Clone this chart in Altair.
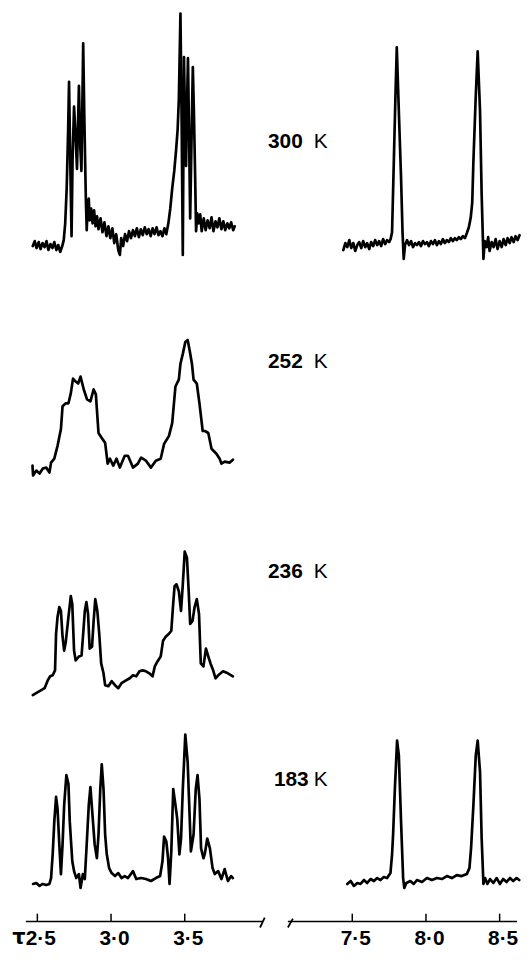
import altair as alt
import pandas as pd

# ---------------- data ----------------
TEMPS = ["300", "252", "236", "183"]
# vertical stacking offset of each trace (baseline level, plot units)
OFFSET = {"300": 684, "252": 454, "236": 233, "183": 38}
# level of the temperature label beside each trace
LABEL_LEVEL = {"300": 788, "252": 566, "236": 353, "183": 143}

TAU_300_L = [2.469, 2.482, 2.495, 2.509, 2.522, 2.535, 2.549, 2.562, 2.575, 2.589,
             2.602, 2.615, 2.629, 2.642, 2.655, 2.669, 2.679, 2.689, 2.699, 2.709,
             2.715, 2.722, 2.732, 2.739, 2.749, 2.759, 2.769, 2.782, 2.792, 2.799,
             2.805, 2.811, 2.819, 2.829, 2.835, 2.842, 2.849, 2.855, 2.865, 2.875,
             2.885, 2.895, 2.905, 2.915, 2.929, 2.942, 2.955, 2.969, 2.982, 2.995,
             3.009, 3.022, 3.035, 3.049, 3.060, 3.069, 3.082, 3.095, 3.109, 3.122,
             3.135, 3.149, 3.162, 3.175, 3.189, 3.202, 3.215, 3.229, 3.242, 3.255,
             3.269, 3.282, 3.295, 3.309, 3.322, 3.335, 3.349, 3.362, 3.375, 3.389,
             3.402, 3.415, 3.429, 3.442, 3.452, 3.460, 3.471, 3.479, 3.487, 3.495,
             3.502, 3.509, 3.515, 3.522, 3.529, 3.537, 3.545, 3.555, 3.562, 3.571,
             3.577, 3.585, 3.595, 3.605, 3.615, 3.629, 3.642, 3.655, 3.669, 3.682,
             3.695, 3.709, 3.722, 3.735, 3.749, 3.762, 3.775, 3.789, 3.802, 3.815,
             3.829, 3.839]
INT_300_L = [-1, 4, -3, 3, -4, 2, -2, 4, -5, 1,
             -3, 3, -5, 0, -7, -1, 5, 22, 57, 117,
             165, 97, 9, 87, 140, 112, 77, 161, 97, 75,
             137, 204, 127, 47, 15, 42, 47, 25, 37, 22,
             35, 19, 29, 16, 27, 13, 23, 9, 19, 7,
             17, 2, 11, -5, -10, 7, -1, 11, 4, 14,
             7, 15, 9, 17, 8, 16, 10, 18, 11, 16,
             9, 17, 11, 18, 10, 14, 9, 17, 11, 22,
             37, 57, 75, 97, 117, 147, 234, 127, -10, 190,
             127, 80, 137, 189, 117, 27, 97, 180, 137, 67,
             14, 32, 22, 31, 14, 27, 15, 25, 17, 28,
             14, 24, 18, 27, 16, 24, 15, 22, 17, 23,
             15, 19]

TAU_300_R = [7.439, 7.453, 7.466, 7.480, 7.493, 7.507, 7.520, 7.534, 7.547, 7.561,
             7.574, 7.588, 7.601, 7.615, 7.628, 7.642, 7.655, 7.669, 7.682, 7.696,
             7.709, 7.723, 7.736, 7.750, 7.760, 7.770, 7.782, 7.793, 7.802, 7.816,
             7.831, 7.841, 7.849, 7.858, 7.872, 7.885, 7.899, 7.912, 7.926, 7.939,
             7.953, 7.966, 7.980, 7.993, 8.007, 8.020, 8.034, 8.047, 8.061, 8.074,
             8.088, 8.101, 8.115, 8.128, 8.142, 8.155, 8.169, 8.182, 8.196, 8.209,
             8.223, 8.236, 8.250, 8.264, 8.277, 8.291, 8.304, 8.314, 8.322, 8.338,
             8.351, 8.367, 8.378, 8.390, 8.399, 8.412, 8.422, 8.432, 8.446, 8.459,
             8.473, 8.486, 8.500, 8.514, 8.527, 8.541, 8.554, 8.568, 8.581, 8.595,
             8.608, 8.622, 8.635]
INT_300_R = [-5, 2, -2, 5, -3, 2, -6, 0, 3, -3,
             4, -2, 2, -4, 3, -1, 5, 0, 4, -1,
             6, 1, 5, 3, 6, 13, 85, 151, 200, 135,
             68, 13, -14, 0, 5, 0, 4, -2, 2, 0,
             3, -1, 4, 1, 3, -1, 4, 1, 5, 0,
             4, 1, 6, 2, 5, 3, 7, 4, 7, 5,
             8, 6, 9, 7, 12, 18, 28, 43, 85, 151,
             196, 135, 51, -14, 4, -2, 8, -6, 3, -2,
             6, -4, 4, -2, 6, 0, 7, 2, 8, 3,
             9, 5, 10]

TAU_252_L = [2.467, 2.471, 2.493, 2.515, 2.537, 2.560, 2.582, 2.593, 2.615, 2.637,
             2.660, 2.671, 2.693, 2.711, 2.727, 2.742, 2.760, 2.777, 2.793, 2.815,
             2.837, 2.860, 2.882, 2.897, 2.915, 2.937, 2.960, 2.977, 2.993, 3.015,
             3.037, 3.060, 3.093, 3.115, 3.149, 3.182, 3.204, 3.237, 3.271, 3.304,
             3.337, 3.360, 3.393, 3.415, 3.437, 3.460, 3.471, 3.487, 3.504, 3.520,
             3.533, 3.549, 3.560, 3.582, 3.600, 3.622, 3.637, 3.660, 3.682, 3.715,
             3.737, 3.749, 3.771, 3.804, 3.827]
INT_252_L = [7, -3, 2, -1, 4, 5, 0, 10, 14, 27,
             44, 67, 70, 70, 80, 95, 92, 90, 97, 84,
             74, 72, 84, 79, 40, 35, 30, 9, 14, 7,
             14, 5, 17, 17, 5, 9, 15, 12, 5, 12,
             14, 29, 37, 50, 87, 94, 110, 120, 132, 134,
             124, 110, 94, 90, 70, 42, 42, 40, 24, 19,
             14, 9, 11, 10, 13]

TAU_236_L = [2.469, 2.515, 2.549, 2.571, 2.587, 2.604, 2.620, 2.627, 2.637, 2.649,
             2.660, 2.671, 2.682, 2.693, 2.711, 2.727, 2.737, 2.749, 2.760, 2.782,
             2.800, 2.811, 2.822, 2.833, 2.844, 2.855, 2.871, 2.882, 2.893, 2.907,
             2.920, 2.933, 2.949, 2.960, 2.982, 3.004, 3.027, 3.049, 3.071, 3.093,
             3.127, 3.149, 3.171, 3.193, 3.215, 3.237, 3.260, 3.282, 3.297, 3.315,
             3.337, 3.353, 3.371, 3.393, 3.409, 3.420, 3.431, 3.444, 3.460, 3.475,
             3.487, 3.500, 3.515, 3.527, 3.537, 3.553, 3.567, 3.582, 3.597, 3.609,
             3.627, 3.644, 3.660, 3.675, 3.693, 3.709, 3.727, 3.760, 3.793, 3.827]
INT_236_L = [-4, 0, 3, 11, 15, 16, 21, 58, 75, 85,
             81, 55, 41, 50, 75, 96, 88, 41, 31, 35,
             36, 58, 81, 90, 78, 43, 45, 71, 93, 81,
             58, 28, 18, 6, 5, 10, 6, 3, 8, 10,
             13, 16, 15, 20, 21, 20, 18, 15, 25, 30,
             35, 51, 55, 58, 61, 85, 106, 108, 101, 81,
             108, 141, 135, 101, 68, 71, 85, 93, 78, 28,
             25, 43, 35, 28, 21, 13, 16, 20, 18, 15]

TAU_183_L = [2.471, 2.493, 2.515, 2.537, 2.560, 2.582, 2.593, 2.604, 2.615, 2.627,
             2.637, 2.649, 2.660, 2.671, 2.682, 2.697, 2.711, 2.720, 2.737, 2.749,
             2.764, 2.782, 2.793, 2.809, 2.822, 2.837, 2.849, 2.860, 2.871, 2.889,
             2.904, 2.915, 2.927, 2.937, 2.949, 2.960, 2.971, 2.987, 3.004, 3.027,
             3.049, 3.071, 3.093, 3.115, 3.149, 3.171, 3.204, 3.237, 3.271, 3.304,
             3.333, 3.349, 3.360, 3.375, 3.387, 3.397, 3.409, 3.422, 3.437, 3.449,
             3.464, 3.475, 3.487, 3.504, 3.520, 3.533, 3.542, 3.560, 3.575, 3.587,
             3.600, 3.611, 3.627, 3.637, 3.653, 3.671, 3.689, 3.704, 3.727, 3.749,
             3.771, 3.793, 3.815, 3.827]
INT_183_L = [0, 1, -2, 0, -1, 0, 6, 30, 63, 88,
             76, 40, 10, 40, 80, 110, 101, 63, 23, 13,
             6, 10, -4, 10, 5, 46, 80, 98, 76, 40,
             26, 50, 96, 121, 96, 50, 30, 16, 11, 8,
             11, 6, 8, 6, 13, 5, 6, 5, 3, 6,
             8, 23, 48, 43, 26, 0, 33, 96, 80, 66,
             30, 46, 96, 151, 123, 70, 33, 50, 96, 110,
             86, 36, 26, 31, 46, 36, 16, 10, 13, 5,
             15, 3, 8, 6]

TAU_183_R = [7.466, 7.489, 7.511, 7.534, 7.556, 7.579, 7.601, 7.624, 7.647, 7.669,
             7.691, 7.714, 7.736, 7.759, 7.770, 7.777, 7.789, 7.804, 7.816, 7.831,
             7.845, 7.853, 7.867, 7.894, 7.917, 7.939, 7.973, 8.007, 8.041, 8.074,
             8.108, 8.142, 8.176, 8.209, 8.243, 8.277, 8.295, 8.306, 8.322, 8.338,
             8.351, 8.367, 8.378, 8.390, 8.401, 8.417, 8.435, 8.457, 8.480, 8.502,
             8.524, 8.547, 8.570, 8.592, 8.615, 8.633]
INT_183_R = [0, 3, -2, 1, 0, 4, 1, 5, 3, 6,
             4, 7, 6, 11, 30, 50, 96, 145, 130, 63,
             6, -4, 1, 3, 0, 4, 2, 6, 4, 6,
             5, 8, 6, 9, 8, 10, 16, 36, 80, 130,
             145, 113, 46, 0, 6, 0, 5, 1, 6, 0,
             5, 2, 6, 3, 6, 4]

TICKS_L = [2.5, 3.0, 3.5]
TICKS_R = [7.5, 8.0, 8.5]

# broken tau axis: left segment and right segment of the scale
SEG_L = (2.422, 4.031)
SEG_R = (7.063, 8.618)
SHIFT = 2.863   # the right segment is drawn shifted left by this many ppm


def pos_r(t):
    return round(t - SHIFT, 4)


# ---------------- tables ----------------
def trace(temp, taus, ints, right=False):
    off = OFFSET[temp]
    n = min(len(taus), len(ints))
    p = [pos_r(t) if right else t for t in taus[:n]]
    return pd.DataFrame({"pos": p, "v": [off + a for a in ints[:n]],
                         "S": temp + ("R" if right else "L"), "i": list(range(n))})


lines_df = pd.concat([trace("300", TAU_300_L, INT_300_L),
                      trace("252", TAU_252_L, INT_252_L),
                      trace("236", TAU_236_L, INT_236_L),
                      trace("183", TAU_183_L, INT_183_L),
                      trace("300", TAU_300_R, INT_300_R, True),
                      trace("183", TAU_183_R, INT_183_R, True)], ignore_index=True)

tick_pos = TICKS_L + [pos_r(t) for t in TICKS_R]
ticks_df = pd.DataFrame({"pos": tick_pos, "v": [0] * 6, "v2": [8] * 6})
axis_df = pd.DataFrame({"pos": [SEG_L[0], pos_r(SEG_R[0])],
                        "pos2": [SEG_L[1], pos_r(SEG_R[1])],
                        "v": [0, 0]})
slash_df = pd.DataFrame({"pos": [4.011, pos_r(7.063)], "pos2": [4.043, pos_r(7.097)],
                         "v": [-6, -6], "v2": [4, 3]})

NUM_POS = {"300": 4.065, "252": 4.065, "236": 4.065, "183": 4.105}
lab_num = pd.DataFrame({"pos": [NUM_POS[t] for t in TEMPS],
                        "v": [LABEL_LEVEL[t] for t in TEMPS], "txt": TEMPS})
lab_k = pd.DataFrame({"pos": [4.375] * 4,
                      "v": [LABEL_LEVEL[t] for t in TEMPS], "txt": ["K"] * 4})
tau_df = pd.DataFrame({"pos": [2.375], "v": [-6], "txt": ["\u03c4"]})

FONT = "Liberation Sans"
XS = alt.Scale(domain=[SEG_L[0], pos_r(SEG_R[1])], nice=False, zero=False)
YS = alt.Scale(domain=[0, 918], nice=False, zero=False)

AX = alt.Axis(values=tick_pos, title=None, grid=False, ticks=False, tickSize=0,
              domain=False, labelFont=FONT, labelFontSize=21, labelFontWeight="bold",
              labelColor="black", labelPadding=6, labelOffset=3,
              labelFlush=False, labelOverlap=False,
              labelExpr="replace(format(datum.value > 4.1 ? datum.value + %s : datum.value, '.1f'), '.', '\u00b7')" % SHIFT)

X = alt.X("pos:Q", scale=XS, axis=AX)
Y = alt.Y("v:Q", scale=YS, axis=None)

lines = alt.Chart(lines_df).mark_line(color="black", strokeWidth=2.7,
                                      strokeJoin="round", strokeCap="round").encode(
    x=X, y=Y, detail="S:N", order="i:Q")

tk = alt.Chart(ticks_df).mark_rule(color="black", strokeWidth=1.5).encode(
    x=X, y=Y, y2="v2:Q")

ax_lines = alt.Chart(axis_df).mark_rule(color="black", strokeWidth=1.6).encode(
    x=X, x2="pos2:Q", y=Y)

slashes = alt.Chart(slash_df).mark_rule(color="black", strokeWidth=1.8).encode(
    x=X, x2="pos2:Q", y=Y, y2="v2:Q")

tau_sym = alt.Chart(tau_df).mark_text(
    font="DejaVu Sans", fontSize=21, fontWeight="bold", color="black",
    align="center", baseline="top").encode(x=X, y=Y, text="txt:N")

num_txt = alt.Chart(lab_num).mark_text(
    font=FONT, fontSize=21, fontWeight="bold", color="black",
    align="left", baseline="middle").encode(x=X, y=Y, text="txt:N")

k_txt = alt.Chart(lab_k).mark_text(
    font=FONT, fontSize=21, fontWeight="normal", color="black",
    align="left", baseline="middle").encode(x=X, y=Y, text="txt:N")

chart = alt.layer(lines, tk, ax_lines, slashes, tau_sym, num_txt, k_txt).properties(
    width=495, height=915,
    padding={"left": 4, "top": 0, "right": 0, "bottom": 0},
).configure_view(stroke=None)

chart.save("out.html", embed_options={"renderer": "svg", "actions": False})
